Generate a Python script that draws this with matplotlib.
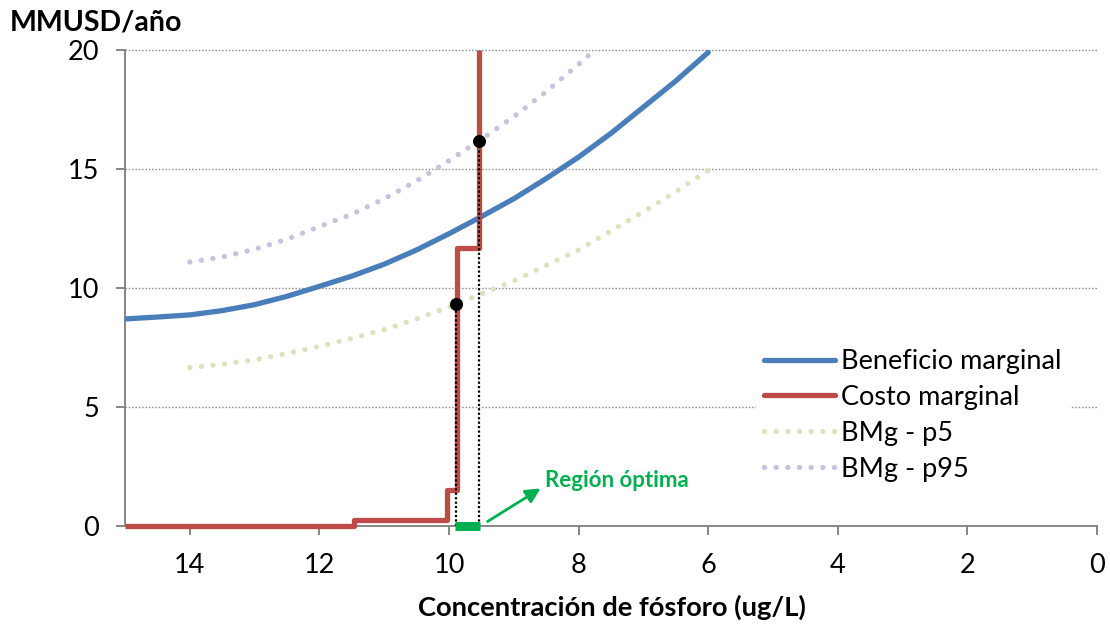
import matplotlib
matplotlib.use("Agg")
import matplotlib.pyplot as plt
from matplotlib.lines import Line2D

plt.rcParams['font.family'] = ['Lato', 'DejaVu Sans']

# Beneficio marginal (MMUSD/año) por concentración de fósforo (ug/L)
conc_bmg = [15, 14.5, 14, 13.5, 13, 12.5, 12, 11.5, 11, 10.5, 10, 9.5, 9, 8.5, 8, 7.5, 7, 6.5, 6]
bmg = [8.70, 8.78, 8.87, 9.05, 9.30, 9.65, 10.07, 10.50, 11.00, 11.60, 12.28, 13.00,
       13.75, 14.60, 15.50, 16.50, 17.60, 18.70, 19.90]

# Bandas percentiles del beneficio marginal
conc_band = [14, 13.5, 13, 12.5, 12, 11.5, 11, 10.5, 10, 9.5, 9, 8.5, 8, 7.5, 7, 6.5, 6]
bmg_p5 = [6.65, 6.80, 6.98, 7.25, 7.55, 7.88, 8.25, 8.70, 9.20, 9.75, 10.30, 10.95,
          11.60, 12.40, 13.20, 14.05, 14.95]
bmg_p95 = [11.09, 11.30, 11.63, 12.05, 12.58, 13.10, 13.75, 14.50, 15.35, 16.25, 17.20,
           18.25, 19.40, 20.60, 22.00, 23.40, 24.90]

# Costo marginal (escalonado)
conc_cmg = [15, 11.47, 11.47, 10.03, 10.03, 9.88, 9.88, 9.54, 9.54]
cmg = [0, 0, 0.25, 0.25, 1.5, 1.5, 11.7, 11.7, 20]

# Intersecciones y región óptima
opt_x = [9.89, 9.53]
opt_y = [9.33, 16.19]
region = [9.90, 9.52]

x_ticks = [14, 12, 10, 8, 6, 4, 2, 0]
y_ticks = [0, 5, 10, 15, 20]

W, H = 1110, 629
fig = plt.figure(figsize=(W / 100, H / 100), dpi=100)
L, R, T, B = 125, 1097, 50, 526
ax = fig.add_axes([L / W, 1 - B / H, (R - L) / W, (B - T) / H])

ax.set_xlim(15, 0)
ax.set_ylim(0, 20)

grid_c = '#868686'
for yv in y_ticks[1:]:
    ax.plot([15, 0], [yv, yv], color=grid_c, lw=1.0, linestyle=(0, (1, 1.4)),
            clip_on=False, zorder=1)

blue = '#4a7ebb'
red = '#be4b48'
green_c = '#d7e4bd'
purple_c = '#ccc1da'

ax.plot(conc_bmg, bmg, color=blue, lw=3.8, solid_capstyle='round',
        solid_joinstyle='round', zorder=3)
ax.plot(conc_cmg, cmg, color=red, lw=3.8, solid_joinstyle='round',
        solid_capstyle='butt', clip_on=False, zorder=4)
ax.plot(conc_band, bmg_p5, color=green_c, lw=3.8, linestyle=(0, (0.01, 2.2)),
        dash_capstyle='round', zorder=3)
ax.plot(conc_band, bmg_p95, color=purple_c, lw=3.8, linestyle=(0, (0.01, 2.2)),
        dash_capstyle='round', zorder=3)

# líneas de referencia verticales
for xv, yv in zip(opt_x, opt_y):
    ax.plot([xv, xv], [0, yv], color='black', lw=1.6, linestyle=(0, (1, 1)), zorder=5)
ax.scatter(opt_x, opt_y, s=70, color='black', zorder=6, clip_on=False)

# región óptima sobre el eje
ax.plot(region, [0.02, 0.02], color='#00b050', lw=6.5, solid_capstyle='butt',
        clip_on=False, zorder=7)
ax.annotate('', xy=(8.55, 1.64), xytext=(9.44, 0.13),
            arrowprops=dict(arrowstyle='-|>', color='#00b050', lw=2, mutation_scale=22),
            annotation_clip=False, zorder=7)
ax.text(8.52, 1.9, 'Región óptima', color='#00b050', fontweight='bold', fontsize=16,
        va='center', ha='left')

for s in ['top', 'right']:
    ax.spines[s].set_visible(False)
for s in ['left', 'bottom']:
    ax.spines[s].set_color(grid_c)
    ax.spines[s].set_linewidth(1.4)
    ax.spines[s].set_zorder(2)

ax.set_xticks(x_ticks)
ax.set_yticks(y_ticks)
ax.tick_params(axis='both', direction='out', length=6.5, width=1.4, color=grid_c,
               labelsize=19.5, labelcolor='black')
ax.tick_params(axis='y', pad=12)
ax.tick_params(axis='x', pad=13)

fig.text(10 / W, 1 - 22 / H, 'MMUSD/año', fontweight='bold', fontsize=20.5,
         ha='left', va='center')
fig.text(612 / W, 1 - 607 / H, 'Concentración de fósforo (ug/L)', fontweight='bold',
         fontsize=19.7, ha='center', va='center')

handles = [
    Line2D([], [], color=blue, lw=3.8, solid_capstyle='round'),
    Line2D([], [], color=red, lw=3.8, solid_capstyle='round'),
    Line2D([], [], color=green_c, lw=3.8, linestyle=(0, (0.01, 2.2)), dash_capstyle='round'),
    Line2D([], [], color=purple_c, lw=3.8, linestyle=(0, (0.01, 2.2)), dash_capstyle='round'),
]
labels = ['Beneficio marginal', 'Costo marginal', 'BMg - p5', 'BMg - p95']
leg = fig.legend(handles, labels, loc='upper left', bbox_to_anchor=(756 / W, 1 - 341 / H),
                 fontsize=19.5, frameon=True, facecolor='white', edgecolor='none',
                 framealpha=1, fancybox=False, handlelength=2.6, handletextpad=0.25,
                 labelspacing=0.4, borderpad=0.3, borderaxespad=0)
leg.set_zorder(8)

fig.savefig('out.png', dpi=100)
